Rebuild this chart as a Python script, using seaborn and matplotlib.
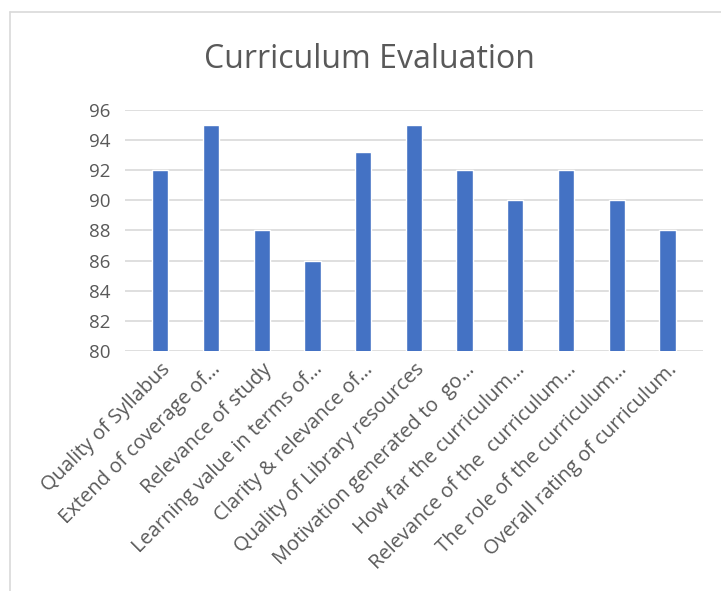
import matplotlib
matplotlib.use("Agg")
import matplotlib.pyplot as plt
import seaborn as sns
import pandas as pd
from matplotlib.lines import Line2D

categories = [
    "Quality of Syllabus",
    "Extend of coverage of…",
    "Relevance of study",
    "Learning value in terms of…",
    "Clarity & relevance of…",
    "Quality of Library resources",
    "Motivation generated to  go…",
    "How far the curriculum…",
    "Relevance of the  curriculum…",
    "The role of the curriculum…",
    "Overall rating of curriculum.",
]
values = [92, 95, 88, 86, 93.2, 95, 92, 90, 92, 90, 88]
yticks = [80, 82, 84, 86, 88, 90, 92, 94, 96]

sns.set_theme(style="white")
plt.rcParams["font.family"] = ["Open Sans", "DejaVu Sans"]

df = pd.DataFrame({"cat": categories, "val": values})

fig = plt.figure(figsize=(7.21, 5.91), dpi=100)
ax = fig.add_axes([0.173, 0.406, 0.802, 0.408])
sns.barplot(data=df, x="cat", y="val", color="#4472C4", width=0.32,
            saturation=1, ax=ax, zorder=3)
ax.set_ylim(80, 96)
ax.set_yticks(yticks)
ax.set_xlim(-0.7, len(categories) - 0.3)
ax.yaxis.grid(True, color="#D9D9D9", linewidth=1.2, zorder=0)
ax.set_axisbelow(True)
for s in ax.spines.values():
    s.set_visible(False)
ax.set_xlabel("")
ax.set_ylabel("")
ax.tick_params(axis="both", length=0, colors="#595959", labelsize=13.5)
ax.tick_params(axis="y", pad=10)
ax.set_xticks(range(len(categories)))
ax.set_xticklabels(categories, rotation=45, ha="right", va="top",
                   rotation_mode="anchor", color="#595959", fontsize=14.5)
ax.tick_params(axis="x", pad=6)

fig.text(0.513, 0.9, "Curriculum Evaluation", ha="center", va="center",
         fontsize=23, color="#595959")

# chart frame
fig.add_artist(Line2D([10/721, 10/721], [0, 1 - 12/591], color="#D9D9D9", lw=1.2))
fig.add_artist(Line2D([10/721, 1], [1 - 12/591, 1 - 12/591], color="#D9D9D9", lw=1.2))

fig.savefig("out.png", dpi=100, facecolor="white")
